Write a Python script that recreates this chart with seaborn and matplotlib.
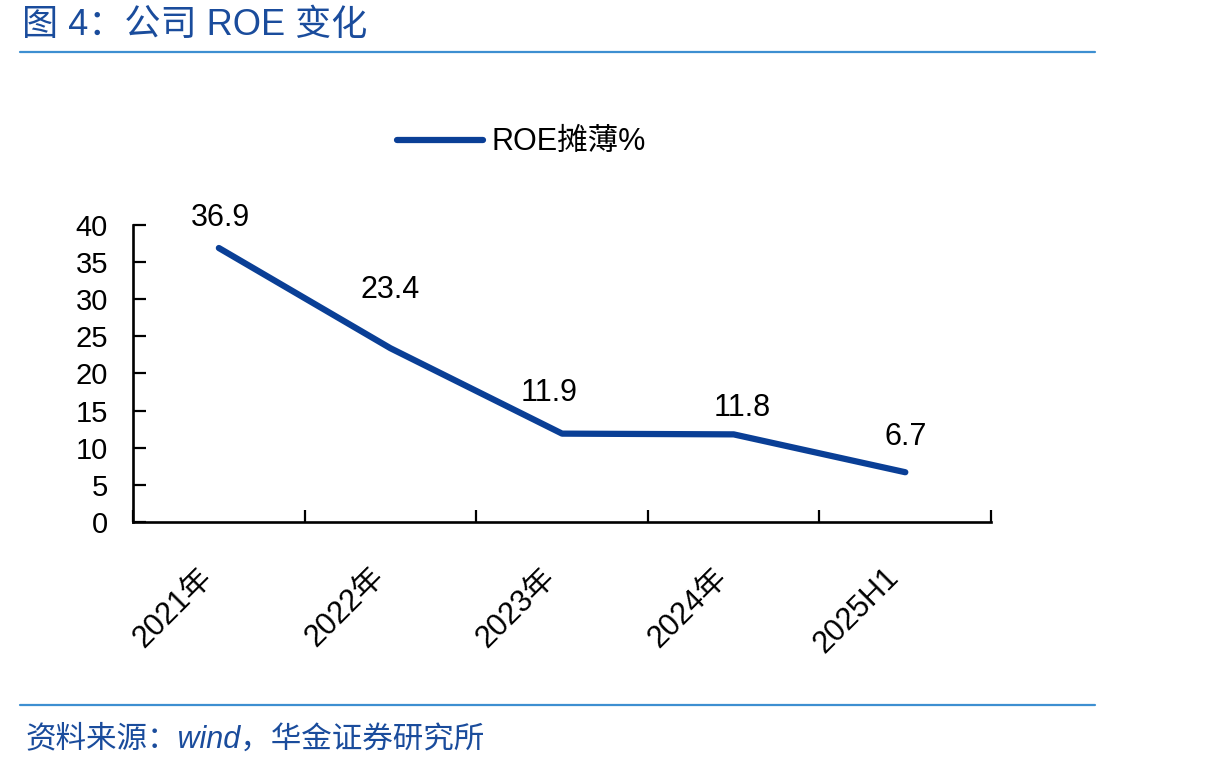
import matplotlib
matplotlib.use("Agg")
import matplotlib.pyplot as plt
import seaborn as sns
import pandas as pd

categories = ["2021年", "2022年", "2023年", "2024年", "2025H1"]
roe_values = [36.9, 23.4, 11.9, 11.8, 6.7]
y_ticks = [0, 5, 10, 15, 20, 25, 30, 35, 40]
series_name = "ROE摊薄%"
title_text = "图 4：公司 ROE 变化"
source_text = "资料来源：wind，华金证券研究所"

sns.set_theme(style="white")
FAM = ["Liberation Sans", "Noto Sans CJK SC", "DejaVu Sans"]
plt.rcParams["font.family"] = FAM
plt.rcParams["text.color"] = "black"

LINE_C = "#0a3f96"
TITLE_C = "#1a4c9c"
RULE_C = "#3d8fd1"

df = pd.DataFrame({"cat": categories, "val": roe_values})

fig = plt.figure(figsize=(12.14, 7.70), dpi=100)
ax = fig.add_axes([0.1096, 0.3221, 0.7068, 0.3857])

sns.lineplot(data=df, x="cat", y="val", ax=ax, color=LINE_C, linewidth=4.5,
             sort=False, label=series_name, solid_capstyle="round")

ax.set_xlim(-0.5, len(categories) - 0.5)
ax.set_ylim(0, 40)
ax.set_yticks(y_ticks)
ax.set_xlabel("")
ax.set_ylabel("")

# data labels (offsets in points)
label_dx = [1.4, 0, -9.4, 5.8, 0]
label_dy = [21.6, 41.8, 29.5, 18.7, 25.2]
for i, v in enumerate(roe_values):
    ax.annotate(f"{v}", (i, v), xytext=(label_dx[i], label_dy[i]),
                textcoords="offset points", ha="center", va="center",
                fontsize=22, color="black")

for s in ["top", "right"]:
    ax.spines[s].set_visible(False)
for s in ["left", "bottom"]:
    ax.spines[s].set_color("black")
    ax.spines[s].set_linewidth(1.9)

ax.tick_params(axis="y", direction="in", length=9, width=1.6, color="black",
               labelsize=21, pad=18, left=True, labelcolor="black")
ax.set_xticks(range(len(categories)))
ax.set_xticklabels(categories, rotation=45, ha="right", va="top", fontsize=22)
ax.tick_params(axis="x", which="major", length=0, pad=29, labelcolor="black")
ax.set_xticks([i - 0.5 for i in range(len(categories) + 1)], minor=True)
ax.tick_params(axis="x", which="minor", direction="in", length=9, width=1.6,
               color="black", bottom=True)

leg = ax.legend(loc="center", bbox_to_anchor=(0.453, 1.278), frameon=False,
                fontsize=22, handlelength=2.8, handletextpad=0.3,
                borderaxespad=0, borderpad=0)
for t in leg.get_texts():
    t.set_color("black")
for h in leg.get_lines():
    h.set_linewidth(4.5)
    h.set_solid_capstyle("round")

# title and rules
fig.text(22 / 1214, 1 - 25 / 770, title_text, fontsize=26, color=TITLE_C,
         ha="left", va="center")
fig.add_artist(plt.Line2D([20 / 1214, 1095 / 1214], [1 - 52 / 770, 1 - 52 / 770],
                          transform=fig.transFigure, color=RULE_C, linewidth=1.6))
fig.add_artist(plt.Line2D([20 / 1214, 1095 / 1214], [1 - 705 / 770, 1 - 705 / 770],
                          transform=fig.transFigure, color=RULE_C, linewidth=1.6))
fig.text(25 / 1214, 1 - 740 / 770, source_text, fontsize=22, color=TITLE_C,
         ha="left", va="center", style="italic")

fig.savefig("out.png", dpi=100)
